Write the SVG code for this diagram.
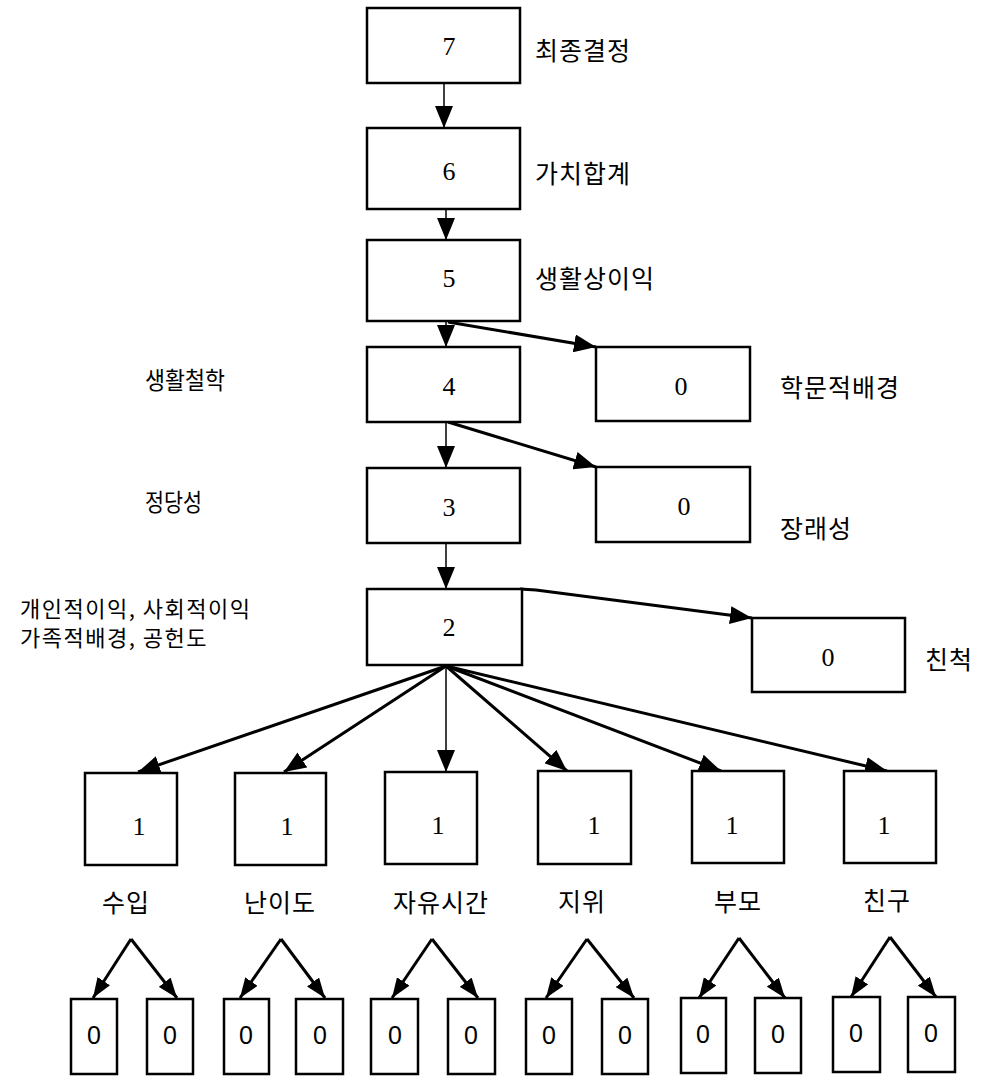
<svg xmlns="http://www.w3.org/2000/svg" width="982" height="1077" viewBox="0 0 982 1077">
<style>
.box{fill:#fff;stroke:#000;stroke-width:2.5}
.num{font-family:"Liberation Serif","Times New Roman",serif;font-size:26px;fill:#000;text-anchor:middle;dominant-baseline:central}
.zero{font-family:"Liberation Sans",Arial,sans-serif;font-size:25px;fill:#000;text-anchor:middle;dominant-baseline:central}
.lbl{font-family:"Noto Sans CJK KR","Noto Sans",sans-serif;font-size:25px;letter-spacing:1px;fill:#000;dominant-baseline:central}
.lbls{font-family:"Noto Sans CJK KR","Noto Sans",sans-serif;font-size:24px;fill:#000;dominant-baseline:central}
.lbl2{font-family:"Noto Sans CJK KR","Noto Sans",sans-serif;font-size:22px;letter-spacing:1.5px;fill:#000;dominant-baseline:central}
.mid{text-anchor:middle}
.thin{fill:none;stroke:#000;stroke-width:1.5}
.thick{fill:none;stroke:#000;stroke-width:3}
</style>
<defs>
<marker id="ah" viewBox="0 0 22 18" refX="22" refY="9" markerWidth="22" markerHeight="18" markerUnits="userSpaceOnUse" orient="auto">
<path d="M0,0 L22,9 L0,18 z" fill="#000"/>
</marker>
<marker id="ahs" viewBox="0 0 20 15" refX="20" refY="7.5" markerWidth="20" markerHeight="15" markerUnits="userSpaceOnUse" orient="auto">
<path d="M0,0 L20,7.5 L0,15 z" fill="#000"/>
</marker>
</defs>

<g id="connectors">
<line class="thin" x1="444" y1="84" x2="444" y2="128" marker-end="url(#ah)"/>
<line class="thin" x1="446" y1="192" x2="446" y2="240" marker-end="url(#ah)"/>
<line class="thin" x1="446" y1="322" x2="446" y2="347" marker-end="url(#ah)"/>
<line class="thick" x1="448" y1="322" x2="596" y2="347" marker-end="url(#ah)"/>
<line class="thin" x1="446" y1="422" x2="446" y2="468" marker-end="url(#ah)"/>
<line class="thick" x1="448" y1="422" x2="596" y2="467" marker-end="url(#ah)"/>
<line class="thin" x1="446" y1="543" x2="446" y2="589" marker-end="url(#ah)"/>
<polyline class="thick" points="520,589 536,590 752,618" marker-end="url(#ah)"/>
<line class="thick" x1="446" y1="666" x2="138" y2="772" marker-end="url(#ah)"/>
<line class="thick" x1="446" y1="666" x2="284" y2="772" marker-end="url(#ah)"/>
<line class="thin" x1="446" y1="666" x2="446" y2="772" marker-end="url(#ah)"/>
<line class="thick" x1="446" y1="666" x2="567" y2="771" marker-end="url(#ah)"/>
<line class="thick" x1="446" y1="666" x2="721" y2="771" marker-end="url(#ah)"/>
<line class="thick" x1="446" y1="666" x2="887" y2="771" marker-end="url(#ah)"/>
<line class="thick" x1="131" y1="939" x2="93" y2="998" marker-end="url(#ahs)"/>
<line class="thick" x1="131" y1="939" x2="177" y2="998" marker-end="url(#ahs)"/>
<line class="thick" x1="281" y1="939" x2="240" y2="998" marker-end="url(#ahs)"/>
<line class="thick" x1="281" y1="939" x2="325" y2="998" marker-end="url(#ahs)"/>
<line class="thick" x1="432" y1="939" x2="392" y2="998" marker-end="url(#ahs)"/>
<line class="thick" x1="432" y1="939" x2="478" y2="998" marker-end="url(#ahs)"/>
<line class="thick" x1="587" y1="939" x2="546" y2="998" marker-end="url(#ahs)"/>
<line class="thick" x1="587" y1="939" x2="634" y2="998" marker-end="url(#ahs)"/>
<line class="thick" x1="739" y1="938" x2="699" y2="998" marker-end="url(#ahs)"/>
<line class="thick" x1="739" y1="938" x2="785" y2="998" marker-end="url(#ahs)"/>
<line class="thick" x1="890" y1="937" x2="851" y2="997" marker-end="url(#ahs)"/>
<line class="thick" x1="890" y1="937" x2="936" y2="997" marker-end="url(#ahs)"/>
</g>

<g id="n7"><rect class="box" x="367" y="8" width="153" height="75"/><text class="num" x="449" y="46">7</text><text class="lbl" x="535" y="49">최종결정</text></g>
<g id="n6"><rect class="box" x="367" y="128" width="153" height="81"/><text class="num" x="449" y="171">6</text><text class="lbl" x="535" y="172">가치합계</text></g>
<g id="n5"><rect class="box" x="367" y="240" width="153" height="81"/><text class="num" x="449" y="278">5</text><text class="lbl" x="535" y="277">생활상이익</text></g>
<g id="n4"><rect class="box" x="367" y="347" width="153" height="75"/><text class="num" x="449" y="386">4</text><text class="lbls" x="145" y="378" textLength="80" lengthAdjust="spacingAndGlyphs">생활철학</text></g>
<g id="n0a"><rect class="box" x="596" y="347" width="154" height="74"/><text class="num" x="681" y="386">0</text><text class="lbl" x="780" y="386">학문적배경</text></g>
<g id="n3"><rect class="box" x="367" y="468" width="153" height="75"/><text class="num" x="449" y="507">3</text><text class="lbls" x="145" y="500" textLength="57" lengthAdjust="spacingAndGlyphs">정당성</text></g>
<g id="n0b"><rect class="box" x="596" y="467" width="154" height="75"/><text class="num" x="684" y="506">0</text><text class="lbl" x="780" y="527">장래성</text></g>
<g id="n2"><rect class="box" x="367" y="589" width="155" height="76"/><text class="num" x="449" y="627">2</text><text class="lbl2" x="20" y="607">개인적이익, 사회적이익</text><text class="lbl2" x="20" y="636">가족적배경, 공헌도</text></g>
<g id="n0c"><rect class="box" x="752" y="618" width="153" height="74"/><text class="num" x="828" y="657">0</text><text class="lbl" x="925" y="658">친척</text></g>

<g id="n1a"><rect class="box" x="85" y="773" width="92" height="92"/><text class="num" x="139" y="826">1</text><text class="lbl mid" x="126" y="901">수입</text></g>
<g id="n1b"><rect class="box" x="235" y="773" width="91" height="92"/><text class="num" x="287" y="826">1</text><text class="lbl mid" x="280" y="901">난이도</text></g>
<g id="n1c"><rect class="box" x="385" y="772" width="92" height="92"/><text class="num" x="438" y="825">1</text><text class="lbl mid" x="441" y="901">자유시간</text></g>
<g id="n1d"><rect class="box" x="538" y="771" width="93" height="93"/><text class="num" x="594" y="825">1</text><text class="lbl mid" x="582" y="900">지위</text></g>
<g id="n1e"><rect class="box" x="692" y="771" width="92" height="92"/><text class="num" x="732" y="825">1</text><text class="lbl mid" x="738" y="900">부모</text></g>
<g id="n1f"><rect class="box" x="844" y="771" width="92" height="92"/><text class="num" x="884" y="825">1</text><text class="lbl mid" x="887" y="899">친구</text></g>

<g id="z1"><rect class="box" x="71" y="999" width="46" height="75"/><text class="zero" x="94" y="1035">0</text></g>
<g id="z2"><rect class="box" x="147" y="999" width="46" height="75"/><text class="zero" x="170" y="1035">0</text></g>
<g id="z3"><rect class="box" x="224" y="999" width="45" height="75"/><text class="zero" x="246" y="1035">0</text></g>
<g id="z4"><rect class="box" x="296" y="999" width="47" height="75"/><text class="zero" x="320" y="1035">0</text></g>
<g id="z5"><rect class="box" x="371" y="999" width="47" height="75"/><text class="zero" x="395" y="1035">0</text></g>
<g id="z6"><rect class="box" x="448" y="999" width="47" height="75"/><text class="zero" x="471" y="1035">0</text></g>
<g id="z7"><rect class="box" x="526" y="999" width="46" height="75"/><text class="zero" x="549" y="1035">0</text></g>
<g id="z8"><rect class="box" x="602" y="999" width="46" height="75"/><text class="zero" x="625" y="1035">0</text></g>
<g id="z9"><rect class="box" x="681" y="998" width="45" height="75"/><text class="zero" x="703" y="1034">0</text></g>
<g id="z10"><rect class="box" x="755" y="998" width="46" height="75"/><text class="zero" x="778" y="1034">0</text></g>
<g id="z11"><rect class="box" x="833" y="997" width="47" height="75"/><text class="zero" x="856" y="1033">0</text></g>
<g id="z12"><rect class="box" x="908" y="997" width="47" height="75"/><text class="zero" x="931" y="1033">0</text></g>
</svg>
